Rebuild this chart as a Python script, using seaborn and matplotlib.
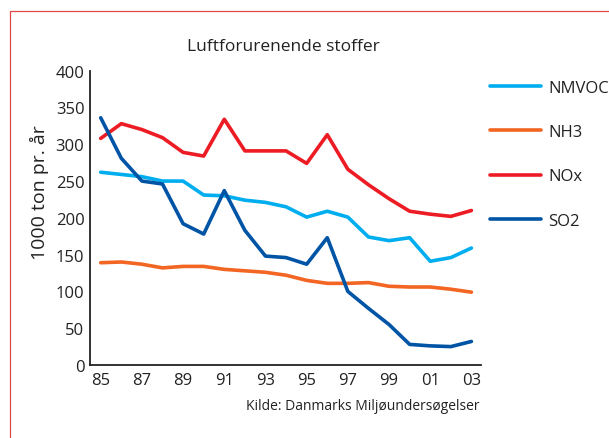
import pandas as pd
import matplotlib
matplotlib.use("Agg")
import matplotlib.pyplot as plt
import matplotlib.patches as patches
import seaborn as sns

# Data (1000 ton pr. år)
years = list(range(1985, 2004))
nmvoc = [262, 259, 256, 250, 250, 231, 230, 224, 221, 215, 201, 209, 201, 174, 169, 173, 141, 146, 159]
nh3 = [139, 140, 137, 132, 134, 134, 130, 128, 126, 122, 115, 111, 111, 112, 107, 106, 106, 103, 99]
nox = [308, 328, 320, 309, 289, 284, 334, 291, 291, 291, 274, 313, 266, 245, 226, 209, 205, 202, 210]
so2 = [336, 281, 250, 246, 192, 178, 237, 183, 148, 146, 137, 173, 100, 77, 55, 28, 26, 25, 32]

series = ["NMVOC", "NH3", "NOx", "SO2"]
colors = ["#00aeef", "#f26522", "#ed1c24", "#0054a6"]
xtick_years = list(range(1985, 2004, 2))
xtick_labels = ["85", "87", "89", "91", "93", "95", "97", "99", "01", "03"]

df = pd.DataFrame({"year": years, "NMVOC": nmvoc, "NH3": nh3, "NOx": nox, "SO2": so2})
long = df.melt(id_vars="year", var_name="stof", value_name="value")

sns.set_style("white")
plt.rcParams["font.family"] = ["Open Sans", "DejaVu Sans"]

fig = plt.figure(figsize=(6.09, 4.39), dpi=100)
ax = fig.add_axes([90 / 609, 1 - 366 / 439, (480.7 - 90) / 609, (366 - 71.7) / 439])

sns.lineplot(data=long, x="year", y="value", hue="stof", hue_order=series,
             palette=colors, linewidth=2.6, ax=ax, legend=True)

ax.set_xlim(1984.48, 2003.45)
ax.set_ylim(0, 400)
ax.set_xticks(xtick_years)
ax.set_xticklabels(xtick_labels)
ax.set_xticks(years, minor=True)
ax.set_yticks(range(0, 401, 50))
ax.tick_params(axis="both", which="both", direction="in", length=7, width=1.2,
               color="#222222", labelsize=12, labelcolor="#222222", pad=4)
ax.tick_params(axis="x", which="major", pad=5)
for s in ["top", "right"]:
    ax.spines[s].set_visible(False)
for s in ["left", "bottom"]:
    ax.spines[s].set_color("#222222")
    ax.spines[s].set_linewidth(1.3)
ax.set_xlabel("")
ax.set_ylabel("1000 ton pr. år", fontsize=14, color="#222222")
ax.yaxis.set_label_coords(-0.105, 0.59)

handles, labels = ax.get_legend_handles_labels()
ax.get_legend().remove()
leg = fig.legend(handles, labels, loc="upper left", bbox_to_anchor=(483 / 609, 1 - 74 / 439),
                 frameon=False, fontsize=12, handlelength=3.1, handletextpad=0.42,
                 labelspacing=1.7, borderaxespad=0)
for line in leg.get_lines():
    line.set_linewidth(2.6)
for t in leg.get_texts():
    t.set_color("#222222")

fig.text(283 / 609, 1 - 47 / 439, "Luftforurenende stoffer", ha="center", va="center",
         fontsize=12.5, color="#222222")
fig.text(480 / 609, 1 - 407 / 439, "Kilde: Danmarks Miljøundersøgelser", ha="right",
         va="center", fontsize=10, color="#222222")

# red frame
fig.patches.append(patches.Rectangle((10 / 609, -0.1), 1.2, 1 - 12 / 439 + 0.1,
                                     transform=fig.transFigure, fill=False,
                                     edgecolor="#e04848", linewidth=0.9))

fig.savefig("out.png", dpi=100)
